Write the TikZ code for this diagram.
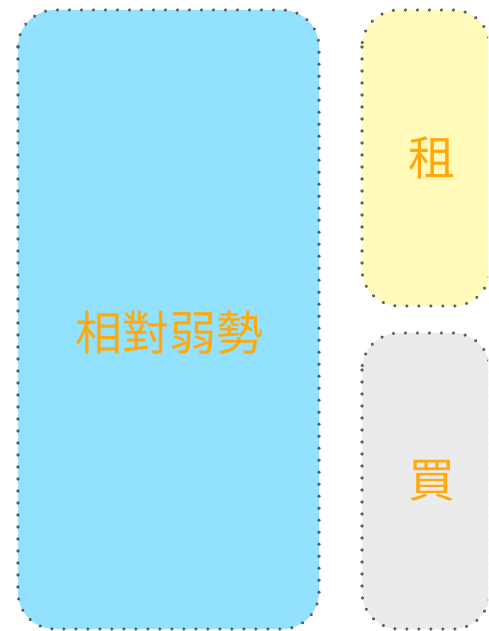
\documentclass[tikz,border=0pt]{standalone}
\usepackage{fontspec}
\usetikzlibrary{decorations.markings}
\newfontfamily\cjk{Noto Sans CJK TC}
\definecolor{boxblue}{HTML}{92E1FE}
\definecolor{boxyellow}{HTML}{FFFABA}
\definecolor{boxgray}{HTML}{EBEBEB}
\definecolor{dotgray}{HTML}{5F5F5F}
\definecolor{txtorange}{HTML}{FFA90A}
\begin{document}
\begin{tikzpicture}[x=1pt,y=-1pt,
  panel/.style={rounded corners=37pt},
  dotted border/.style={postaction={decorate, decoration={markings, mark=between positions 0 and 1 step 12pt with {\fill[dotgray] (0,0) circle (1.8pt);}}}},
  label/.style={text=txtorange, font=\cjk\fontsize{47}{52}\selectfont, inner sep=0pt}]
\useasboundingbox (0,0) rectangle (488,631);
\clip (0,0) rectangle (488,631);
\fill[white] (0,0) rectangle (488,631);
\fill[panel, fill=boxblue, dotted border] (18,10) rectangle (319,629);
\fill[panel, fill=boxyellow, dotted border] (362,10) rectangle (490,306);
\fill[panel, fill=boxgray, dotted border] (362,333) rectangle (490,629);
\node[label] (weak) at (169,333) {相對弱勢};
\node[label] (rent) at (432,158) {租};
\node[label] (buy) at (432,481) {買};
\end{tikzpicture}
\end{document}
